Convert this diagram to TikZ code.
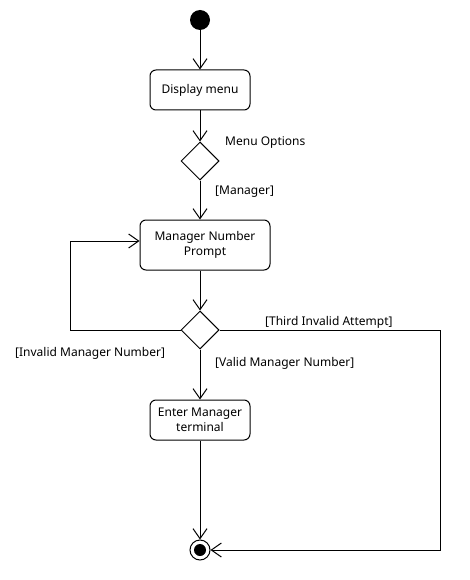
\documentclass[tikz,border=0pt]{standalone}
\usepackage{fontspec}
\setmainfont{Noto Sans}
\usetikzlibrary{shapes.geometric,arrows.meta}
\begin{document}
\begin{tikzpicture}[x=1pt,y=-1pt,
  every node/.style={font=\fontsize{12}{15}\selectfont},
  action/.style={draw, line width=1pt, rectangle, rounded corners=6pt, align=center, inner sep=0pt},
  decision/.style={draw, line width=1pt, diamond, minimum width=38pt, minimum height=38pt, inner sep=0pt},
  flow/.style={draw, line width=1pt, -{Straight Barb[length=10pt,width=14pt,line width=1pt]}},
  label/.style={anchor=west, inner sep=0pt}
]
\useasboundingbox (0,0) rectangle (470,580);
\node[circle, fill=black, minimum size=20pt, inner sep=0pt] (start) at (200,20) {};
\node[action, minimum width=100pt, minimum height=40pt] (display) at (200,90) {Display menu};
\node[decision] (d1) at (200,161) {};
\node[action, minimum width=130pt, minimum height=50pt] (mnp) at (205,245) {Manager Number\\Prompt};
\node[decision] (d2) at (200,330) {};
\node[action, minimum width=100pt, minimum height=40pt] (emt) at (200,420) {Enter Manager\\terminal};
\node[circle, draw, line width=1pt, fill=white, minimum size=20pt, inner sep=0pt,
  path picture={\fill[black] (path picture bounding box.center) circle (6pt);}] (final) at (200,550) {};
\coordinate (loopl) at (70,330);
\coordinate (loopr) at (440,330);

\draw[flow] (start) -- (display);
\draw[flow] (display) -- (d1);
\draw[flow] (d1.south) -- (d1.south |- mnp.north);
\draw[flow] (mnp.south -| d2.north) -- (d2.north);
\draw[flow] (d2.west) -- (loopl) |- ([yshift=4pt]mnp.west);
\draw[flow] (d2.south) -- (emt.north);
\draw[flow] (d2.east) -- (loopr) |- (final.east);
\draw[flow] (emt.south) -- (final.north);

\node[label] (lmenu) at (225,143) {Menu Options};
\node[label] (lman) at (215,192) {[Manager]};
\node[label] (lthird) at (265,322) {[Third Invalid Attempt]};
\node[label] (linv) at (15,353) {[Invalid Manager Number]};
\node[label] (lvalid) at (215,363) {[Valid Manager Number]};
\end{tikzpicture}
\end{document}
